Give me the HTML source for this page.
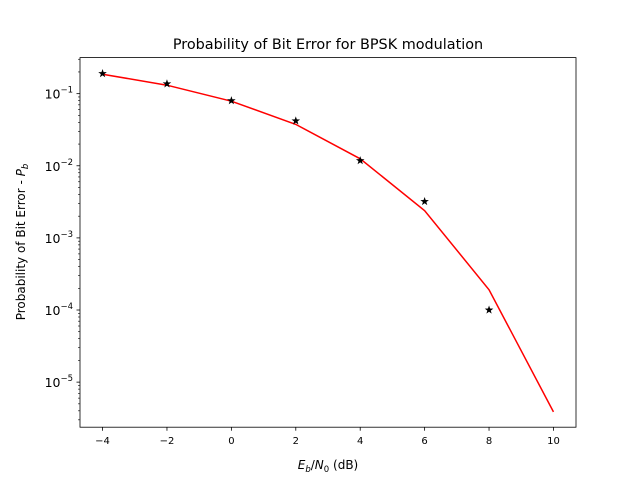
<!DOCTYPE html>
<html><head><meta charset="utf-8"><style>body{margin:0;background:#fff}svg{display:block}text{font-family:"DejaVu Sans","Liberation Sans",sans-serif;fill:#000}</style></head>
<body>
<svg id="chart" width="640" height="480">
<rect x="0" y="0" width="640" height="480" fill="#fff"/>
<text x="328" y="49" font-size="14.4" text-anchor="middle">Probability of Bit Error for BPSK modulation</text>
<g id="ticks"></g>
<g id="series"></g>
<rect x="80" y="57.6" width="496" height="369.6" fill="none" stroke="#000" stroke-width="0.8"/>
<text x="328" y="469" font-size="12" text-anchor="middle"><tspan font-style="italic">E</tspan><tspan font-style="italic" font-size="8.5" dy="3">b</tspan><tspan dy="-3">/</tspan><tspan font-style="italic">N</tspan><tspan font-size="8.5" dy="3">0</tspan><tspan dy="-3"> (dB)</tspan></text>
<text transform="translate(25,242) rotate(-90)" font-size="12" text-anchor="middle">Probability of Bit Error - <tspan font-style="italic">P</tspan><tspan font-style="italic" font-size="8.5" dy="3">b</tspan></text>
</svg>
<script>
const snrDb=[-4,-2,0,2,4,6,8,10];
const theory=[0.186,0.131,0.0786,0.0375,0.0125,0.00239,0.000191,3.87e-6];
const simSnr=[-4,-2,0,2,4,6,8];
const simulated=[0.19,0.137,0.080,0.042,0.0118,0.0032,0.0001];
const xTicks=[-4,-2,0,2,4,6,8,10];
const yExps=[-5,-4,-3,-2,-1];
const NS='http://www.w3.org/2000/svg';
const L=80,R=576,T=57.6,B=427.2,xmin=-4.7,xmax=10.7,lmin=-5.625,lmax=-0.5;
const X=v=>L+(v-xmin)/(xmax-xmin)*(R-L);
const Y=v=>B-(Math.log10(v)-lmin)/(lmax-lmin)*(B-T);
function mk(tag,attrs,parent){const e=document.createElementNS(NS,tag);for(const k in attrs)e.setAttribute(k,attrs[k]);parent.appendChild(e);return e;}
const tg=document.getElementById('ticks'),sg=document.getElementById('series');
xTicks.forEach(t=>{const x=X(t);
 const l=mk('line',{x1:x,x2:x,y1:B,y2:B+3.5,stroke:'#000','stroke-width':0.8},tg);
 
 const tx=mk('text',{x:x,y:B+17,'font-size':10,'text-anchor':'middle'},tg);tx.textContent=(t<0?'\u2212'+(-t):t);
 });
for(let e=-6;e<=0;e++){for(let m=2;m<=9;m++){const v=m*Math.pow(10,e);const y=Y(v);if(y<T||y>B)continue;
 const l=mk('line',{x1:L-2,x2:L,y1:y,y2:y,stroke:'#000','stroke-width':0.6},tg);
 }}
yExps.forEach(e=>{const y=Y(Math.pow(10,e));
 const l=mk('line',{x1:L-3.5,x2:L,y1:y,y2:y,stroke:'#000','stroke-width':0.8},tg);
 
 const tx=mk('text',{x:L-7,y:y+5,'font-size':12.5,'text-anchor':'end'},tg);
 
 tx.innerHTML='10<tspan font-size="8.5" dy="-6">\u2212'+(-e)+'</tspan>';});
const pl=mk('polyline',{points:snrDb.map((d,i)=>X(d)+','+Y(theory[i])).join(' '),fill:'none',stroke:'#ff0000','stroke-width':1.5},sg);

function star(cx,cy,r){let p=[];for(let i=0;i<10;i++){const a=-Math.PI/2+i*Math.PI/5,rr=i%2?r*0.4:r;p.push((cx+rr*Math.cos(a)).toFixed(2)+','+(cy+rr*Math.sin(a)).toFixed(2));}return p.join(' ');}
simSnr.forEach((d,i)=>{const s=mk('polygon',{points:star(X(d),Y(simulated[i]),4.5),fill:'#000'},sg);
 });
</script>
</body></html>
